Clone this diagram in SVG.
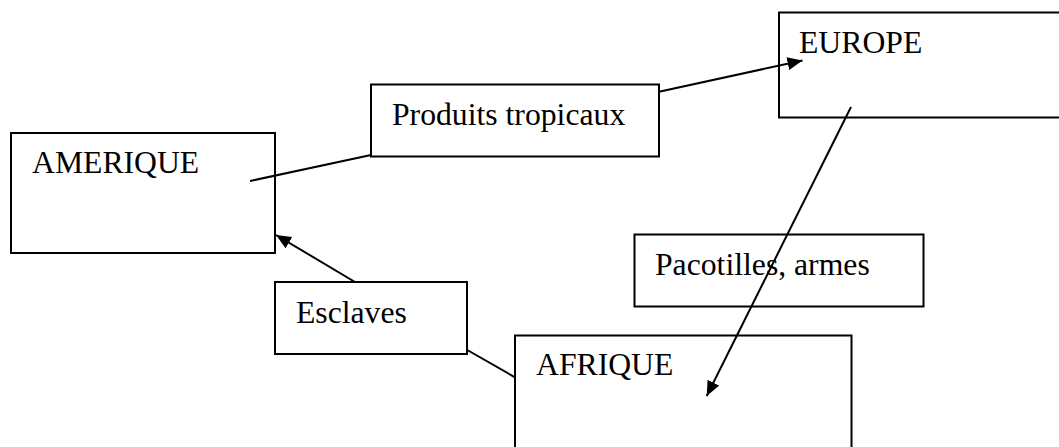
<svg xmlns="http://www.w3.org/2000/svg" width="1059" height="447" viewBox="0 0 1059 447">
<style>
.box{fill:#fff;stroke:#000;stroke-width:2}
.lbl{font-family:"Liberation Serif","Times New Roman",serif;font-size:31.7px;fill:#000}
.con{stroke:#000;stroke-width:2;fill:none}
</style>
<defs>
<marker id="ah" markerUnits="userSpaceOnUse" markerWidth="16" markerHeight="14" refX="15" refY="6.5" orient="auto">
<path d="M0,0 L15,6.5 L0,13 z" fill="#000"/>
</marker>
</defs>
<rect width="1059" height="447" fill="#fff"/>
<g id="amerique">
<rect class="box" x="11" y="133" width="264" height="120"/>
<text class="lbl" x="32" y="172.7">AMERIQUE</text>
</g>
<g id="produits">
<rect class="box" x="371" y="84.5" width="288" height="72"/>
<text class="lbl" x="392" y="125">Produits tropicaux</text>
</g>
<g id="europe">
<rect class="box" x="779" y="12.5" width="300" height="105"/>
<text class="lbl" x="799" y="53">EUROPE</text>
</g>
<g id="pacotilles">
<rect class="box" x="634.5" y="234.5" width="289" height="72"/>
<text class="lbl" x="655" y="274.5">Pacotilles, armes</text>
</g>
<g id="esclaves">
<rect class="box" x="275" y="282" width="192" height="72"/>
<text class="lbl" x="296" y="322.5">Esclaves</text>
</g>
<g id="afrique">
<rect class="box" x="515" y="335.5" width="336.5" height="130"/>
<text class="lbl" x="536" y="375">AFRIQUE</text>
</g>
<g id="connectors">
<line class="con" x1="250" y1="181" x2="371" y2="155"/>
<line class="con" x1="659" y1="91.7" x2="802.5" y2="60.5" marker-end="url(#ah)"/>
<line class="con" x1="851" y1="107" x2="706.7" y2="396" marker-end="url(#ah)"/>
<line class="con" x1="355" y1="282" x2="276" y2="235" marker-end="url(#ah)"/>
<line class="con" x1="467.3" y1="350" x2="515" y2="377.3"/>
</g>
</svg>
